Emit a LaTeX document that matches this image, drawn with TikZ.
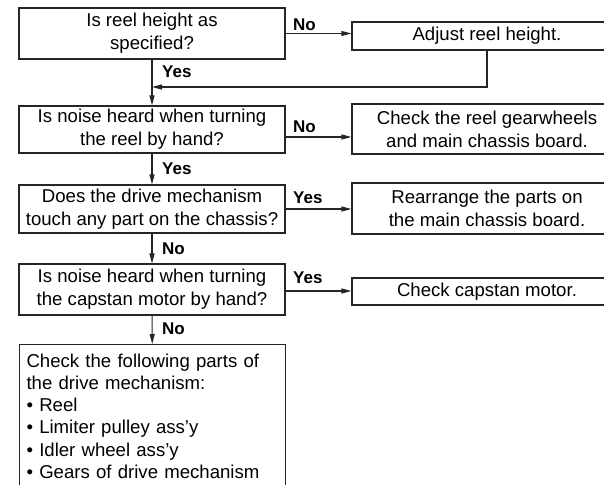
\documentclass[tikz,border=0pt]{standalone}
\usepackage{fontspec}
\setmainfont{Liberation Sans}
\usetikzlibrary{arrows.meta}
\begin{document}
\begin{tikzpicture}[x=1pt,y=-1pt,
  box/.style={draw=black!85, line width=1.1pt, inner sep=0pt, align=center,
    font=\fontsize{18.6}{23}\selectfont},
  arr/.style={draw=black!85, line width=1.1pt, -{Triangle[length=10pt,width=5pt]}},
  lbl/.style={font=\fontsize{17}{20}\selectfont\bfseries, inner sep=0pt}]
\useasboundingbox (0,0) rectangle (604,484);
\clip (0,0) rectangle (604,484);
% left column
\node[box, minimum width=266pt, minimum height=51pt] (b1) at (152,33.5) {Is reel height as\\specified?};
\node[box, minimum width=266pt, minimum height=47pt] (b2) at (152,129.5) {Is noise heard when turning\\the reel by hand?};
\node[box, minimum width=266pt, minimum height=48pt] (b3) at (152,209) {Does the drive mechanism\\touch any part on the chassis?};
\node[box, minimum width=266pt, minimum height=51pt] (b4) at (152,289.5) {Is noise heard when turning\\the capstan motor by hand?};
\node[box, anchor=north west, align=left, text width=252pt, inner xsep=7pt, inner ysep=9pt,
  font=\fontsize{18.6}{22.3}\selectfont] (b5) at (19,344)
  {Check the following parts of\\the drive mechanism:\\• Reel\\• Limiter pulley ass’y\\• Idler wheel ass’y\\• Gears of drive mechanism};
% right column
\node[box, minimum width=270pt, minimum height=28pt] (a) at (487,36) {Adjust reel height.};
\node[box, minimum width=270pt, minimum height=50pt] (b) at (487,129) {Check the reel gearwheels\\and main chassis board.};
\node[box, minimum width=270pt, minimum height=51pt] (c) at (487,208.5) {Rearrange the parts on\\the main chassis board.};
\node[box, minimum width=270pt, minimum height=27pt] (d) at (487,291.5) {Check capstan motor.};
% trunk
\draw[arr] (b1) -- (b2);
\draw[arr] (b2) -- (b3);
\draw[arr] (b3) -- (b4);
\draw[arr] (b4) -- (b5);
% side arrows
\draw[arr] (b1.east) -- (b1.east -| a.west);
\draw[arr] ([yshift=-7.5pt]b2.east) -- ([yshift=-7.5pt]b2.east -| b.west);
\draw[arr] (b3.east) -- (b3.east -| c.west);
\draw[arr] ([yshift=-1.5pt]b4.east) -- ([yshift=-1.5pt]b4.east -| d.west);
% feedback
\coordinate (fb) at (152,87);
\draw[arr] (a.south) |- (fb);
% labels
\node[lbl, anchor=base west] (l1) at (293,31) {No};
\node[lbl, anchor=base west] (l2) at (293,132) {No};
\node[lbl, anchor=base west] (l3) at (293,203) {Yes};
\node[lbl, anchor=base west] (l4) at (293,283) {Yes};
\node[lbl, anchor=base west] (t1) at (162,78) {Yes};
\node[lbl, anchor=base west] (t2) at (162,174) {Yes};
\node[lbl, anchor=base west] (t3) at (162,254) {No};
\node[lbl, anchor=base west] (t4) at (162,334) {No};
\end{tikzpicture}
\end{document}
